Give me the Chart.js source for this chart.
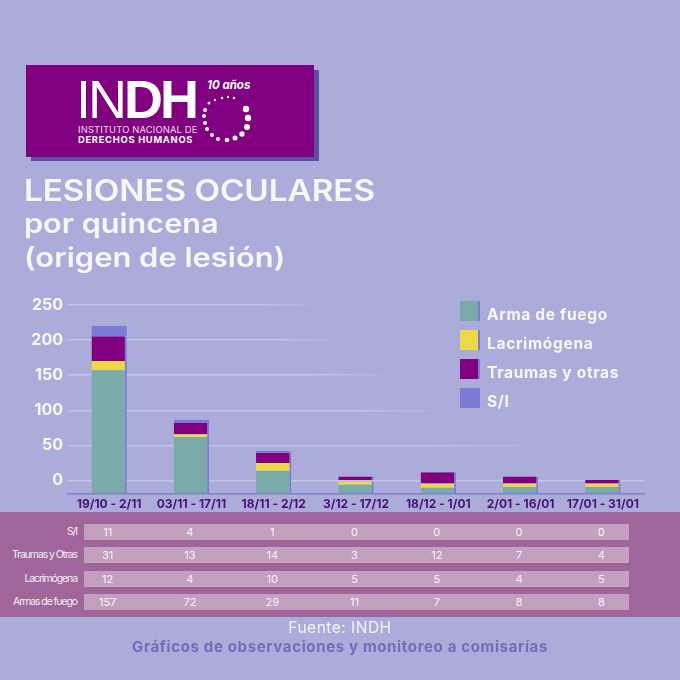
<!DOCTYPE html>
<html lang="es"><head><meta charset="utf-8">
<script src="https://cdn.jsdelivr.net/npm/chart.js@4/dist/chart.umd.min.js"></script>
<style>
html,body{margin:0;padding:0;width:680px;height:680px;overflow:hidden;background:#acacdb;font-family:Inter,sans-serif}
#c{position:absolute;left:0;top:0}
.a{position:absolute;white-space:nowrap}
#logoShadow{left:31px;top:70px;width:288px;height:91px;background:#5b4ea3}
#logo{left:26px;top:65px;width:288px;height:92px;background:#800080}
.t{left:24px;color:#f7f7fd;font-weight:600;transform-origin:left center}
.lg{left:460px;width:18px;height:20px;border-right:2px solid #7b7bd6}
.lt{left:487px;color:#f7f7fd;font-weight:700;font-size:15.5px;line-height:20px;letter-spacing:.7px}
#band{left:0;top:512px;width:680px;height:105px;background:#a0669b}
.row{left:84px;width:545px;height:16px;background:#c3a0c0}
.rl{right:603px;color:#f4eef6;font-size:10.5px;line-height:16px;letter-spacing:-1.1px}
.cell{color:#f8f2f8;font-size:11px;line-height:16px;transform:translateX(-50%)}
</style></head><body>
<canvas id="c" width="680" height="680"></canvas>
<div class="a" id="logoShadow"></div><div class="a" id="logo"></div>
<div class="a" style="left:76px;top:71px;color:#fff;font-size:54px;line-height:56px;letter-spacing:-3px;font-family:'Liberation Sans'"><span style="font-weight:300">IN</span><span style="font-weight:700">DH</span></div>
<div class="a" style="left:78px;top:125px;color:#f3dff3;font-size:9.4px;line-height:10px;letter-spacing:.15px">INSTITUTO NACIONAL DE</div>
<div class="a" style="left:78px;top:135px;color:#fff;font-size:9.4px;line-height:10px;font-weight:700;letter-spacing:.7px">DERECHOS HUMANOS</div>
<div class="a" style="left:207px;top:78px;color:#fff;font-size:11.5px;line-height:14px;font-style:italic;font-weight:700">10 años</div>
<svg class="a" style="left:195px;top:90px" width="65" height="60" viewBox="195 90 65 60" fill="#fff">
<circle cx="215" cy="100" r="1.2"/><circle cx="222" cy="98" r="1.2"/><circle cx="228" cy="97" r="1.2"/><circle cx="234" cy="98" r="1.2"/>
<circle cx="209" cy="103" r="1.5"/><circle cx="205" cy="110" r="2"/><circle cx="204" cy="116" r="2"/><circle cx="205" cy="123" r="2"/>
<circle cx="207" cy="129" r="2"/><circle cx="212" cy="135" r="2"/><circle cx="218" cy="139" r="2"/><circle cx="227" cy="140" r="2.3"/>
<circle cx="235" cy="138" r="2.5"/><circle cx="242" cy="134" r="2.7"/><circle cx="247" cy="127" r="3"/><circle cx="248" cy="118" r="3.2"/><circle cx="246" cy="109" r="3.2"/>
</svg>
<div class="a t" style="top:172px;font-size:29.5px;line-height:36px;transform:scaleX(1.125)">LESIONES OCULARES</div>
<div class="a t" style="top:208px;font-size:27px;line-height:32px;transform:scaleX(1.135)">por quincena</div>
<div class="a t" style="top:242px;font-size:27px;line-height:32px;transform:scaleX(1.145)">(origen de lesión)</div>
<div id="legend"></div>
<div class="a" id="band"></div>
<div id="table"></div>
<div class="a" style="left:0;width:680px;text-align:center;top:619px;color:#f4f4fb;font-size:15.5px;line-height:18px;letter-spacing:.5px">Fuente: INDH</div>
<div class="a" style="left:0;width:680px;text-align:center;top:638px;color:#6c6fbb;font-size:15px;line-height:18px;font-weight:700;letter-spacing:.65px">Gráficos de observaciones y monitoreo a comisarías</div>
<script>
const categories = ["19/10 - 2/11","03/11 - 17/11","18/11 - 2/12","3/12 - 17/12","18/12 - 1/01","2/01 - 16/01","17/01 - 31/01"];
const yTicks = [0,50,100,150,200,250];
const seriesNames = ["Arma de fuego","Lacrimógena","Traumas y otras","S/I"];
const seriesColors = ["#7aaba8","#ecd945","#800080","#7b7bd6"];
const baseline = -18;
const armaTop = [157,62,14,-6,-10,-9,-9];
const lacrimTop = [170,66,25,0,-4,-4,-4];
const traumaTop = [205,82,40,6,12,6,1];
const siTop = [220,86,42,6,12,6,1];
// printed table
const rowLabels = ["S/I","Traumas y Otras","Lacrimógena","Armas de fuego"];
const tableSI = [11,4,1,0,0,0,0];
const tableTraumas = [31,13,14,3,12,7,4];
const tableLacrim = [12,4,10,5,5,4,5];
const tableArmas = [157,72,29,11,7,8,8];

const tops = [armaTop,lacrimTop,traumaTop,siTop];
const fadeEnd = {250:320,200:345,150:400,100:450,50:545,0:644};
const datasets = tops.map((arr,s)=>({
  label:seriesNames[s],
  data:arr.map((v,i)=>[s===0?baseline:tops[s-1][i],v]),
  backgroundColor:seriesColors[s],
  borderColor:"#7b7bd6",
  borderWidth:{top:0,left:0,bottom:0,right:2},
  borderSkipped:false,
  grouped:false,
  barPercentage:0.43,
  categoryPercentage:1
}));
const chart = new Chart(document.getElementById("c"),{
  type:"bar",
  data:{labels:categories,datasets},
  options:{
    responsive:false,animation:false,
    layout:{padding:{top:304.7,right:36,left:0,bottom:0}},
    plugins:{legend:{display:false},tooltip:{enabled:false},title:{display:false}},
    scales:{
      x:{
        afterFit:s=>{s.height=186.7},
        grid:{display:false,drawTicks:false},
        border:{display:true,color:"#7f7fcf",width:1.5},
        ticks:{color:"#4a1078",font:{family:"Inter",weight:"700",size:12},padding:4,maxRotation:0,autoSkip:false}
      },
      y:{
        min:baseline,max:250,
        afterFit:s=>{s.width=68},
        afterBuildTicks:s=>{s.ticks=yTicks.map(v=>({value:v}))},
        border:{display:false},
        grid:{
          drawTicks:false,lineWidth:1.5,
          color:ctx=>{
            const v=ctx.tick.value, a=ctx.chart.chartArea, g=ctx.chart.ctx.createLinearGradient(a.left,0,fadeEnd[v],0);
            g.addColorStop(0,"#c2c3ee");
            g.addColorStop(v===0?1:0.75,"#c2c3ee");
            g.addColorStop(1,v===0?"#c2c3ee":"rgba(194,195,238,0)");
            return g;
          }
        },
        ticks:{color:"#f7f7fd",padding:5,font:{family:"Inter",weight:"700",size:16}}
      }
    }
  }
});
// legend
const lg=document.getElementById("legend");
seriesNames.forEach((n,i)=>{
  const top=301+i*29;
  lg.insertAdjacentHTML("beforeend",`<div class="a lg" style="top:${top}px;background:${seriesColors[i]}"></div><div class="a lt" style="top:${top+4}px">${n}</div>`);
});
// table
const tb=document.getElementById("table");
const rowTops=[524,547,571,594];
[tableSI,tableTraumas,tableLacrim,tableArmas].forEach((vals,r)=>{
  let h=`<div class="a row" style="top:${rowTops[r]}px"></div><div class="a rl" style="top:${rowTops[r]}px">${rowLabels[r]}</div>`;
  vals.forEach((v,i)=>{h+=`<div class="a cell" style="top:${rowTops[r]}px;left:${chart.scales.x.getPixelForValue(i)-1.5}px">${v}</div>`});
  tb.insertAdjacentHTML("beforeend",h);
});
</script>
</body></html>
